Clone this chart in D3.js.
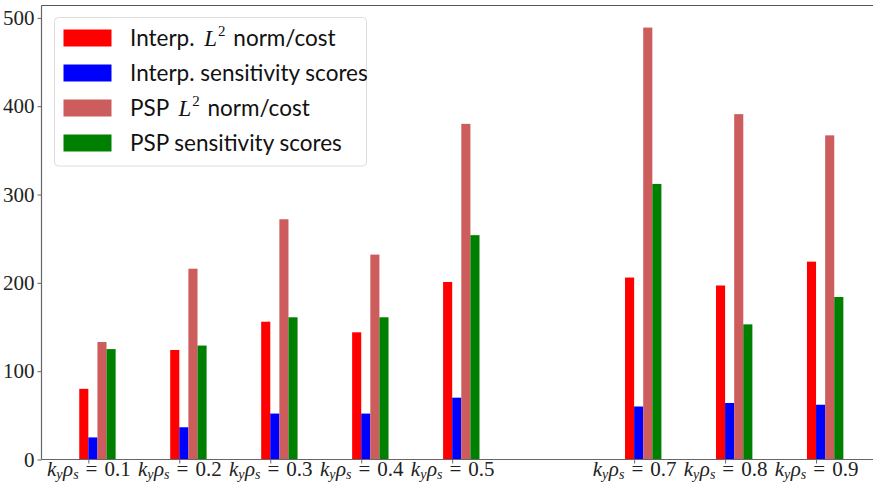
<!DOCTYPE html>
<html><head><meta charset="utf-8">
<script src="https://cdn.jsdelivr.net/npm/d3@7"></script>
<style>
html,body{margin:0;padding:0;background:#fff;}
svg{display:block;}
</style></head>
<body>
<svg id="chart" width="873" height="482"></svg>
<script>
// ---- data ----
const ks = [0.1, 0.2, 0.3, 0.4, 0.5, 0.7, 0.8, 0.9];
const interpL2 = [80, 124, 156, 144, 201, 206, 197, 224];
const interpSens = [25, 36.5, 52, 52, 70, 60, 64, 62];
const pspL2 = [133, 216, 272, 232, 380, 489, 391, 367];
const pspSens = [125, 129, 161, 161, 254, 312, 153, 184];
const yTicks = [0, 100, 200, 300, 400, 500];
const seriesNames = ["Interp. |L2| norm/cost", "Interp. sensitivity scores", "PSP |L2| norm/cost", "PSP sensitivity scores"];
const seriesColors = ["#ff0000", "#0000ff", "#cd5c5c", "#008000"];
const seriesData = [interpL2, interpSens, pspL2, pspSens];
const barWidth = 0.01;

(function () {
const svg = d3.select("#chart");
const mLeft = 41.5, mRight = 872, mTop = 5.5, mBottom = 459.5;
const x = d3.scaleLinear().domain([0.0485, 0.9615]).range([mLeft, mRight]);
const y = d3.scaleLinear().domain([0, 514]).range([mBottom, mTop]);

// bars
seriesData.forEach((vals, si) => {
  svg.append("g").selectAll("rect").data(ks.map((k, i) => ({k, v: vals[i]})))
    .join("rect")
    .attr("x", d => x(d.k + (si - 1) * barWidth))
    .attr("width", d => x(d.k + barWidth) - x(d.k))
    .attr("y", d => y(d.v))
    .attr("height", d => y(0) - y(d.v))
    .attr("fill", seriesColors[si]);
});

// axes
const serif = "'Liberation Serif', 'DejaVu Serif', serif";
const yAxis = svg.append("g").attr("transform", `translate(${mLeft},0)`)
  .call(d3.axisLeft(y).tickValues(yTicks).tickSize(4).tickPadding(3));
yAxis.select(".domain").remove();
yAxis.selectAll("line").attr("stroke", "#666");
yAxis.selectAll("text").attr("font-family", serif).attr("font-size", 21).attr("fill", "#222");

const xAxis = svg.append("g").attr("transform", `translate(0,${mBottom})`)
  .call(d3.axisBottom(x).tickValues(ks).tickSize(4).tickFormat(""));
xAxis.select(".domain").remove();
xAxis.selectAll("line").attr("stroke", "#666");
xAxis.selectAll(".tick").each(function(d) {
  const t = d3.select(this).append("text")
    .attr("y", 16.5)
    .attr("text-anchor", "middle")
    .attr("font-family", serif).attr("font-size", 21).attr("fill", "#222");
  t.append("tspan").attr("font-style", "italic").text("k");
  t.append("tspan").attr("font-style", "italic").attr("font-size", 14).attr("dy", 3).text("y");
  t.append("tspan").attr("font-style", "italic").attr("dy", -3).attr("dx", 0.5).text("ρ");
  t.append("tspan").attr("font-style", "italic").attr("font-size", 14).attr("dy", 3).text("s");
  t.append("tspan").attr("dy", -3).attr("dx", 7).text("=");
  t.append("tspan").attr("dx", 7).text(d3.format(".1f")(d));
});

// spines
svg.append("line").attr("x1", mLeft).attr("x2", mLeft).attr("y1", mTop).attr("y2", mBottom).attr("stroke", "#666").attr("stroke-width", 1.2);
svg.append("line").attr("x1", mLeft).attr("x2", 873).attr("y1", mBottom).attr("y2", mBottom).attr("stroke", "#666").attr("stroke-width", 1.2);
svg.append("line").attr("x1", mLeft).attr("x2", 873).attr("y1", mTop).attr("y2", mTop).attr("stroke", "#555").attr("stroke-width", 1.2);

// legend
const sans = "Lato, 'Open Sans', 'DejaVu Sans', sans-serif";
const lg = svg.append("g");
lg.append("rect").attr("x", 54.5).attr("y", 17.5).attr("width", 312).attr("height", 148.5)
  .attr("rx", 4).attr("fill", "#fff").attr("fill-opacity", 0.85).attr("stroke", "#ddd");
seriesNames.forEach((name, i) => {
  const cy = 38 + i * 35;
  lg.append("rect").attr("x", 63.5).attr("y", cy - 8.5).attr("width", 48).attr("height", 17).attr("fill", seriesColors[i]);
  const t = lg.append("text").attr("x", 130).attr("y", cy + 8)
    .attr("font-family", sans).attr("font-size", 22.5).attr("fill", "#111");
  const parts = name.split("|");
  let pendingDy = 0;
  parts.forEach(p => {
    if (p === "L2") {
      t.append("tspan").attr("font-family", serif).attr("font-style", "italic").attr("font-size", 23).attr("dx", 4).text("L");
      t.append("tspan").attr("font-family", serif).attr("font-size", 15).attr("dy", -10).attr("dx", 1).text("2");
      pendingDy = 10;
    } else {
      const s = t.append("tspan").text(p.replace(/ /g, "\u00a0"));
      if (pendingDy) { s.attr("dy", pendingDy).attr("dx", 2); pendingDy = 0; }
    }
  });
});
})();
</script>
</body></html>
